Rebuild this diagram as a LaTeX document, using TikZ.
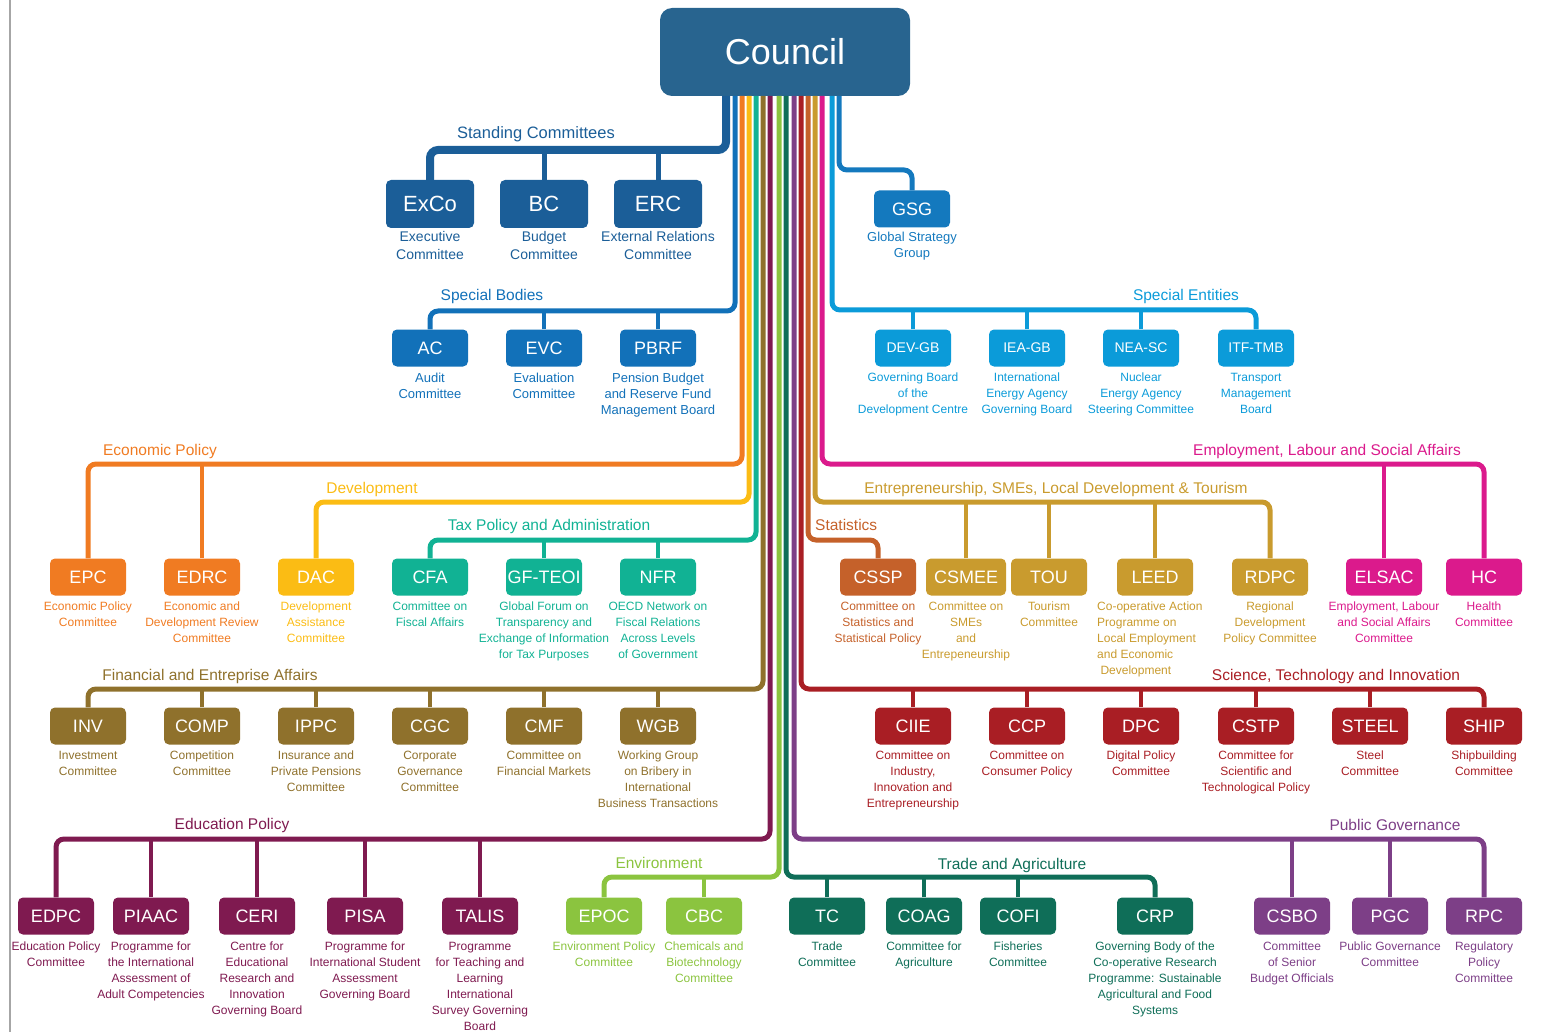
\documentclass[tikz,border=0pt]{standalone}
\usepackage{fontspec}
\setmainfont{Liberation Sans}
\usetikzlibrary{positioning}

\begin{document}
\begin{tikzpicture}[x=1pt, y=-1pt,
    box/.style={rounded corners=5pt, minimum width=76pt, minimum height=37pt, inner sep=0pt, text=white, font=\fontsize{18}{18}\selectfont},
    bigbox/.style={box, minimum width=88pt, minimum height=48pt, font=\fontsize{22}{22}\selectfont},
    smallbox/.style={box, font=\fontsize{14}{14}\selectfont},
    desc/.style={align=center, inner sep=0pt, font=\fontsize{12}{16}\selectfont},
    topdesc/.style={desc, font=\fontsize{14}{18}\selectfont},
    middesc/.style={desc, font=\fontsize{13}{16}\selectfont},
    head/.style={inner sep=0pt, font=\fontsize{15.5}{16}\selectfont},
    trunk/.style={line width=5pt, rounded corners=8pt},
    drop/.style={line width=4pt}]
        \definecolor{council}{RGB}{40,100,143}
        \definecolor{standing}{RGB}{27,94,152}
        \definecolor{bodies}{RGB}{18,113,185}
        \definecolor{gsgblue}{RGB}{20,121,190}
        \definecolor{entities}{RGB}{11,155,217}
        \definecolor{econ}{RGB}{240,123,34}
        \definecolor{devel}{RGB}{251,188,20}
        \definecolor{tax}{RGB}{17,178,148}
        \definecolor{finance}{RGB}{143,113,44}
        \definecolor{educ}{RGB}{127,26,80}
        \definecolor{envir}{RGB}{139,196,63}
        \definecolor{trade}{RGB}{15,110,88}
        \definecolor{pubgov}{RGB}{125,63,135}
        \definecolor{sti}{RGB}{169,30,36}
        \definecolor{stats}{RGB}{197,97,42}
        \definecolor{entre}{RGB}{201,155,46}
        \definecolor{employ}{RGB}{219,26,140}
        \useasboundingbox (0,0) rectangle (1550,1032);
        \draw[black!35, line width=2pt] (10,0) -- (10,1032);

        % council
        \node[rounded corners=12pt, fill=council, minimum width=250pt, minimum height=88pt, text=white, font=\fontsize{36}{36}\selectfont] (Council) at (785,52) {Council};

        % trunk tops and bars
        \coordinate (top-std) at (726,96);   \coordinate (bar-std) at (430,150);
        \coordinate (top-bod) at (735,96);   \coordinate (bar-bod) at (430,311);
        \coordinate (top-econ) at (742,96);  \coordinate (bar-econ) at (88,464);
        \coordinate (top-dev) at (749,96);   \coordinate (bar-dev) at (316,502);
        \coordinate (top-tax) at (756,96);   \coordinate (bar-tax) at (430,540);
        \coordinate (top-fin) at (763,96);   \coordinate (bar-fin) at (88,689);
        \coordinate (top-edu) at (770,96);   \coordinate (bar-edu) at (56,839);
        \coordinate (top-env) at (779,96);   \coordinate (bar-env) at (604,877);
        \coordinate (top-trade) at (786,96); \coordinate (bar-trade) at (1155,877);
        \coordinate (top-pg) at (794,96);    \coordinate (bar-pg) at (1484,839);
        \coordinate (top-sti) at (801,96);   \coordinate (bar-sti) at (1484,689);
        \coordinate (top-stat) at (808,96);  \coordinate (bar-stat) at (878,540);
        \coordinate (top-ent) at (815,96);   \coordinate (bar-ent) at (1270,502);
        \coordinate (top-emp) at (822,96);   \coordinate (bar-emp) at (1484,464);
        \coordinate (top-se) at (832,96);    \coordinate (bar-se) at (1256,310);
        \coordinate (top-gsg) at (839,96);   \coordinate (bar-gsg) at (912,170);

        % standing committees
        \node[bigbox, fill=standing] (ExCo) at (430,204) {ExCo};
        \node[bigbox, fill=standing] (BC) at (544,204) {BC};
        \node[bigbox, fill=standing] (ERC) at (658,204) {ERC};
        \node[topdesc, text=standing, below=3pt of ExCo] (ExCo-d) {Executive\\Committee};
        \node[topdesc, text=standing, below=3pt of BC] (BC-d) {Budget\\Committee};
        \node[topdesc, text=standing, below=3pt of ERC] (ERC-d) {External Relations\\Committee};
        \draw[trunk, standing, line width=8pt] (top-std) |- (bar-std) -- (ExCo.north);
        \draw[drop, standing, line width=5pt] (BC.north) -- (BC.north |- bar-std);
        \draw[drop, standing, line width=5pt] (ERC.north) -- (ERC.north |- bar-std);
        \node[head, text=standing, font=\fontsize{16.5}{17}\selectfont] (lab-std) at (536,134) {Standing Committees};

        % global strategy group
        \node[box, fill=gsgblue] (GSG) at (912,209) {GSG};
        \node[middesc, text=gsgblue, below=4pt of GSG] (GSG-d) {Global Strategy\\Group};
        \draw[trunk, gsgblue] (top-gsg) |- (bar-gsg) -- (GSG.north);

        % special bodies
        \node[box, fill=bodies] (AC) at (430,348) {AC};
        \node[box, fill=bodies] (EVC) at (544,348) {EVC};
        \node[box, fill=bodies] (PBRF) at (658,348) {PBRF};
        \node[middesc, text=bodies, below=6pt of AC] (AC-d) {Audit\\Committee};
        \node[middesc, text=bodies, below=6pt of EVC] (EVC-d) {Evaluation\\Committee};
        \node[middesc, text=bodies, below=6pt of PBRF] (PBRF-d) {Pension Budget\\and Reserve Fund\\Management Board};
        \draw[trunk, bodies] (top-bod) |- (bar-bod) -- (AC.north);
        \draw[drop, bodies] (EVC.north) -- (EVC.north |- bar-bod);
        \draw[drop, bodies] (PBRF.north) -- (PBRF.north |- bar-bod);
        \node[head, text=bodies] (lab-bod) at (492,296) {Special Bodies};

        % special entities
        \node[smallbox, fill=entities] (DEV-GB) at (913,348) {DEV-GB};
        \node[smallbox, fill=entities] (IEA-GB) at (1027,348) {IEA-GB};
        \node[smallbox, fill=entities] (NEA-SC) at (1141,348) {NEA-SC};
        \node[smallbox, fill=entities] (ITF-TMB) at (1256,348) {ITF-TMB};
        \node[desc, text=entities, below=6pt of DEV-GB] (DEV-GB-d) {Governing Board\\of the\\Development Centre};
        \node[desc, text=entities, below=6pt of IEA-GB] (IEA-GB-d) {International\\Energy Agency\\Governing Board};
        \node[desc, text=entities, below=6pt of NEA-SC] (NEA-SC-d) {Nuclear\\Energy Agency\\Steering Committee};
        \node[desc, text=entities, below=6pt of ITF-TMB] (ITF-TMB-d) {Transport\\Management\\Board};
        \draw[trunk, entities] (top-se) |- (bar-se) -- (ITF-TMB.north);
        \draw[drop, entities] (DEV-GB.north) -- (DEV-GB.north |- bar-se);
        \draw[drop, entities] (IEA-GB.north) -- (IEA-GB.north |- bar-se);
        \draw[drop, entities] (NEA-SC.north) -- (NEA-SC.north |- bar-se);
        \node[head, text=entities] (lab-se) at (1186,296) {Special Entities};

        % economic policy
        \node[box, fill=econ] (EPC) at (88,577) {EPC};
        \node[box, fill=econ] (EDRC) at (202,577) {EDRC};
        \node[desc, text=econ, below=6pt of EPC] (EPC-d) {Economic Policy\\Committee};
        \node[desc, text=econ, below=6pt of EDRC] (EDRC-d) {Economic and\\Development Review\\Committee};
        \draw[trunk, econ] (top-econ) |- (bar-econ) -- (EPC.north);
        \draw[drop, econ] (EDRC.north) -- (EDRC.north |- bar-econ);
        \node[head, text=econ] (lab-econ) at (160,451) {Economic Policy};

        % development
        \node[box, fill=devel] (DAC) at (316,577) {DAC};
        \node[desc, text=devel, below=6pt of DAC] (DAC-d) {Development\\Assistance\\Committee};
        \draw[trunk, devel] (top-dev) |- (bar-dev) -- (DAC.north);
        \node[head, text=devel] (lab-dev) at (372,489) {Development};

        % tax policy
        \node[box, fill=tax] (CFA) at (430,577) {CFA};
        \node[box, fill=tax] (GF-TEOI) at (544,577) {GF-TEOI};
        \node[box, fill=tax] (NFR) at (658,577) {NFR};
        \node[desc, text=tax, below=6pt of CFA] (CFA-d) {Committee on\\Fiscal Affairs};
        \node[desc, text=tax, below=6pt of GF-TEOI] (GF-TEOI-d) {Global Forum on\\Transparency and\\Exchange of Information\\for Tax Purposes};
        \node[desc, text=tax, below=6pt of NFR] (NFR-d) {OECD Network on\\Fiscal Relations\\Across Levels\\of Government};
        \draw[trunk, tax] (top-tax) |- (bar-tax) -- (CFA.north);
        \draw[drop, tax] (GF-TEOI.north) -- (GF-TEOI.north |- bar-tax);
        \draw[drop, tax] (NFR.north) -- (NFR.north |- bar-tax);
        \node[head, text=tax] (lab-tax) at (549,526) {Tax Policy and Administration};

        % statistics
        \node[box, fill=stats] (CSSP) at (878,577) {CSSP};
        \node[desc, text=stats, below=6pt of CSSP] (CSSP-d) {Committee on\\Statistics and\\Statistical Policy};
        \draw[trunk, stats] (top-stat) |- (bar-stat) -- (CSSP.north);
        \node[head, text=stats, anchor=west] (lab-stat) at (815,525) {Statistics};

        % entrepreneurship
        \node[box, fill=entre, minimum width=80pt] (CSMEE) at (966,577) {CSMEE};
        \node[box, fill=entre] (TOU) at (1049,577) {TOU};
        \node[box, fill=entre] (LEED) at (1155,577) {LEED};
        \node[box, fill=entre] (RDPC) at (1270,577) {RDPC};
        \node[desc, text=entre, below=6pt of CSMEE] (CSMEE-d) {Committee on\\SMEs\\and\\Entrepeneurship};
        \node[desc, text=entre, below=6pt of TOU] (TOU-d) {Tourism\\Committee};
        \node[desc, text=entre, align=left, anchor=north west] (LEED-d) at (1097,602) {Co-operative Action\\Programme on\\Local Employment\\and Economic\\\ Development};
        \node[desc, text=entre, below=6pt of RDPC] (RDPC-d) {Regional\\Development\\Policy Committee};
        \draw[trunk, entre] (top-ent) |- (bar-ent) -- (RDPC.north);
        \draw[drop, entre] (CSMEE.north) -- (CSMEE.north |- bar-ent);
        \draw[drop, entre] (TOU.north) -- (TOU.north |- bar-ent);
        \draw[drop, entre] (LEED.north) -- (LEED.north |- bar-ent);
        \node[head, text=entre] (lab-ent) at (1056,489) {Entrepreneurship, SMEs, Local Development \& Tourism};

        % employment
        \node[box, fill=employ] (ELSAC) at (1384,577) {ELSAC};
        \node[box, fill=employ] (HC) at (1484,577) {HC};
        \node[desc, text=employ, below=6pt of ELSAC] (ELSAC-d) {Employment, Labour\\and Social Affairs\\Committee};
        \node[desc, text=employ, below=6pt of HC] (HC-d) {Health\\Committee};
        \draw[trunk, employ] (top-emp) |- (bar-emp) -- (HC.north);
        \draw[drop, employ] (ELSAC.north) -- (ELSAC.north |- bar-emp);
        \node[head, text=employ] (lab-emp) at (1327,451) {Employment, Labour and Social Affairs};

        % financial and enterprise affairs
        \node[box, fill=finance] (INV) at (88,726) {INV};
        \node[box, fill=finance] (COMP) at (202,726) {COMP};
        \node[box, fill=finance] (IPPC) at (316,726) {IPPC};
        \node[box, fill=finance] (CGC) at (430,726) {CGC};
        \node[box, fill=finance] (CMF) at (544,726) {CMF};
        \node[box, fill=finance] (WGB) at (658,726) {WGB};
        \node[desc, text=finance, below=6pt of INV] (INV-d) {Investment\\Committee};
        \node[desc, text=finance, below=6pt of COMP] (COMP-d) {Competition\\Committee};
        \node[desc, text=finance, below=6pt of IPPC] (IPPC-d) {Insurance and\\Private Pensions\\Committee};
        \node[desc, text=finance, below=6pt of CGC] (CGC-d) {Corporate\\Governance\\Committee};
        \node[desc, text=finance, below=6pt of CMF] (CMF-d) {Committee on\\Financial Markets};
        \node[desc, text=finance, below=6pt of WGB] (WGB-d) {Working Group\\on Bribery in\\International\\Business Transactions};
        \draw[trunk, finance] (top-fin) |- (bar-fin) -- (INV.north);
        \draw[drop, finance] (COMP.north) -- (COMP.north |- bar-fin);
        \draw[drop, finance] (IPPC.north) -- (IPPC.north |- bar-fin);
        \draw[drop, finance] (CGC.north) -- (CGC.north |- bar-fin);
        \draw[drop, finance] (CMF.north) -- (CMF.north |- bar-fin);
        \draw[drop, finance] (WGB.north) -- (WGB.north |- bar-fin);
        \node[head, text=finance] (lab-fin) at (210,676) {Financial and Entreprise Affairs};

        % science, technology and innovation
        \node[box, fill=sti] (CIIE) at (913,726) {CIIE};
        \node[box, fill=sti] (CCP) at (1027,726) {CCP};
        \node[box, fill=sti] (DPC) at (1141,726) {DPC};
        \node[box, fill=sti] (CSTP) at (1256,726) {CSTP};
        \node[box, fill=sti] (STEEL) at (1370,726) {STEEL};
        \node[box, fill=sti] (SHIP) at (1484,726) {SHIP};
        \node[desc, text=sti, below=6pt of CIIE] (CIIE-d) {Committee on\\Industry,\\Innovation and\\Entrepreneurship};
        \node[desc, text=sti, below=6pt of CCP] (CCP-d) {Committee on\\Consumer Policy};
        \node[desc, text=sti, below=6pt of DPC] (DPC-d) {Digital Policy\\Committee};
        \node[desc, text=sti, below=6pt of CSTP] (CSTP-d) {Committee for\\Scientific and\\Technological Policy};
        \node[desc, text=sti, below=6pt of STEEL] (STEEL-d) {Steel\\Committee};
        \node[desc, text=sti, below=6pt of SHIP] (SHIP-d) {Shipbuilding\\Committee};
        \draw[trunk, sti] (top-sti) |- (bar-sti) -- (SHIP.north);
        \draw[drop, sti] (CIIE.north) -- (CIIE.north |- bar-sti);
        \draw[drop, sti] (CCP.north) -- (CCP.north |- bar-sti);
        \draw[drop, sti] (DPC.north) -- (DPC.north |- bar-sti);
        \draw[drop, sti] (CSTP.north) -- (CSTP.north |- bar-sti);
        \draw[drop, sti] (STEEL.north) -- (STEEL.north |- bar-sti);
        \node[head, text=sti] (lab-sti) at (1336,676) {Science, Technology and Innovation};

        % education policy
        \node[box, fill=educ] (EDPC) at (56,916) {EDPC};
        \node[box, fill=educ] (PIAAC) at (151,916) {PIAAC};
        \node[box, fill=educ] (CERI) at (257,916) {CERI};
        \node[box, fill=educ] (PISA) at (365,916) {PISA};
        \node[box, fill=educ] (TALIS) at (480,916) {TALIS};
        \node[desc, text=educ, below=7pt of EDPC] (EDPC-d) {Education Policy\\Committee};
        \node[desc, text=educ, below=7pt of PIAAC] (PIAAC-d) {Programme for\\the International\\Assessment of\\Adult Competencies};
        \node[desc, text=educ, below=7pt of CERI] (CERI-d) {Centre for\\Educational\\Research and\\Innovation\\Governing Board};
        \node[desc, text=educ, below=7pt of PISA] (PISA-d) {Programme for\\International Student\\Assessment\\Governing Board};
        \node[desc, text=educ, below=7pt of TALIS] (TALIS-d) {Programme\\for Teaching and\\Learning\\International\\Survey Governing\\Board};
        \draw[trunk, educ] (top-edu) |- (bar-edu) -- (EDPC.north);
        \draw[drop, educ] (PIAAC.north) -- (PIAAC.north |- bar-edu);
        \draw[drop, educ] (CERI.north) -- (CERI.north |- bar-edu);
        \draw[drop, educ] (PISA.north) -- (PISA.north |- bar-edu);
        \draw[drop, educ] (TALIS.north) -- (TALIS.north |- bar-edu);
        \node[head, text=educ] (lab-edu) at (232,825) {Education Policy};

        % environment
        \node[box, fill=envir] (EPOC) at (604,916) {EPOC};
        \node[box, fill=envir] (CBC) at (704,916) {CBC};
        \node[desc, text=envir, below=7pt of EPOC] (EPOC-d) {Environment Policy\\Committee};
        \node[desc, text=envir, below=7pt of CBC] (CBC-d) {Chemicals and\\Biotechnology\\Committee};
        \draw[trunk, envir] (top-env) |- (bar-env) -- (EPOC.north);
        \draw[drop, envir] (CBC.north) -- (CBC.north |- bar-env);
        \node[head, text=envir] (lab-env) at (659,863) {Environment};

        % trade and agriculture
        \node[box, fill=trade] (TC) at (827,916) {TC};
        \node[box, fill=trade] (COAG) at (924,916) {COAG};
        \node[box, fill=trade] (COFI) at (1018,916) {COFI};
        \node[box, fill=trade] (CRP) at (1155,916) {CRP};
        \node[desc, text=trade, below=7pt of TC] (TC-d) {Trade\\Committee};
        \node[desc, text=trade, below=7pt of COAG] (COAG-d) {Committee for\\Agriculture};
        \node[desc, text=trade, below=7pt of COFI] (COFI-d) {Fisheries\\Committee};
        \node[desc, text=trade, below=7pt of CRP] (CRP-d) {Governing Body of the\\Co-operative Research\\Programme: Sustainable\\Agricultural and Food\\Systems};
        \draw[trunk, trade] (top-trade) |- (bar-trade) -- (CRP.north);
        \draw[drop, trade] (TC.north) -- (TC.north |- bar-trade);
        \draw[drop, trade] (COAG.north) -- (COAG.north |- bar-trade);
        \draw[drop, trade] (COFI.north) -- (COFI.north |- bar-trade);
        \node[head, text=trade] (lab-trade) at (1012,865) {Trade and Agriculture};

        % public governance
        \node[box, fill=pubgov] (CSBO) at (1292,916) {CSBO};
        \node[box, fill=pubgov] (PGC) at (1390,916) {PGC};
        \node[box, fill=pubgov] (RPC) at (1484,916) {RPC};
        \node[desc, text=pubgov, below=7pt of CSBO] (CSBO-d) {Committee\\of Senior\\Budget Officials};
        \node[desc, text=pubgov, below=7pt of PGC] (PGC-d) {Public Governance\\Committee};
        \node[desc, text=pubgov, below=7pt of RPC] (RPC-d) {Regulatory\\Policy\\Committee};
        \draw[trunk, pubgov] (top-pg) |- (bar-pg) -- (RPC.north);
        \draw[drop, pubgov] (CSBO.north) -- (CSBO.north |- bar-pg);
        \draw[drop, pubgov] (PGC.north) -- (PGC.north |- bar-pg);
        \node[head, text=pubgov] (lab-pg) at (1395,825) {Public Governance};
\end{tikzpicture}
\end{document}
